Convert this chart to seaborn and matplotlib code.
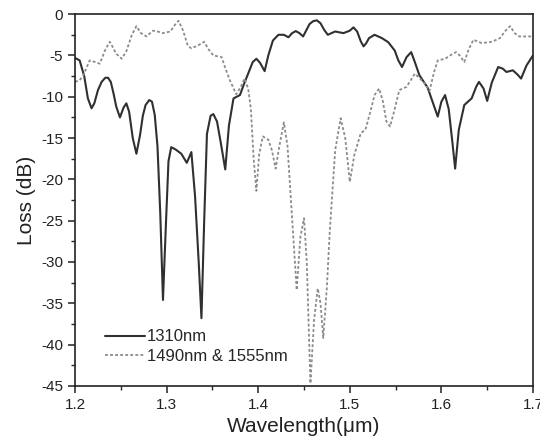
import numpy as np
import pandas as pd
import matplotlib
matplotlib.use('Agg')
import matplotlib.pyplot as plt
from matplotlib.ticker import MultipleLocator, FormatStrFormatter
import seaborn as sns

# 1310nm curve (solid)
wl_1310 = [1.200, 1.205, 1.210, 1.214, 1.218, 1.221, 1.225, 1.229, 1.233, 1.236,
           1.239, 1.242, 1.245, 1.249, 1.253, 1.256, 1.259, 1.263, 1.267, 1.271,
           1.274, 1.277, 1.281, 1.284, 1.287, 1.290, 1.293, 1.296, 1.299, 1.302,
           1.305, 1.310, 1.316, 1.322, 1.327, 1.331, 1.335, 1.338, 1.341, 1.344,
           1.348, 1.351, 1.355, 1.359, 1.364, 1.368, 1.373, 1.380, 1.385, 1.389,
           1.394, 1.398, 1.402, 1.407, 1.411, 1.416, 1.422, 1.428, 1.433, 1.437,
           1.441, 1.445, 1.449, 1.456, 1.460, 1.464, 1.468, 1.472, 1.476, 1.484,
           1.493, 1.500, 1.504, 1.508, 1.512, 1.515, 1.518, 1.521, 1.527, 1.535,
           1.542, 1.549, 1.553, 1.557, 1.562, 1.567, 1.571, 1.576, 1.585, 1.590,
           1.596, 1.600, 1.604, 1.608, 1.612, 1.615, 1.619, 1.625, 1.633, 1.638,
           1.641, 1.646, 1.650, 1.655, 1.662, 1.667, 1.671, 1.678, 1.683, 1.687,
           1.693, 1.700]
loss_1310 = [-5.3, -5.6, -7.5, -10.2, -11.4, -10.8, -9.2, -8.2, -7.7, -7.7,
             -8.2, -9.6, -11.2, -12.5, -11.3, -10.8, -11.8, -15.0, -16.9, -14.6,
             -12.3, -11.0, -10.4, -10.6, -12.2, -16.0, -24.0, -34.6, -26.0, -17.8,
             -16.1, -16.4, -16.9, -18.0, -16.7, -22.0, -30.0, -36.8, -25.0, -14.5,
             -12.3, -12.1, -13.0, -15.5, -18.8, -13.5, -10.2, -9.8, -8.3, -7.2,
             -5.8, -5.4, -5.9, -6.9, -5.0, -3.2, -2.5, -2.5, -2.8, -2.3,
             -2.05, -2.3, -2.7, -1.2, -0.85, -0.75, -1.1, -1.9, -2.5, -2.1,
             -2.3, -2.0, -1.6, -2.1, -3.3, -3.9, -3.5, -2.9, -2.5, -2.9,
             -3.4, -4.4, -5.6, -6.4, -5.2, -4.6, -5.8, -7.4, -8.9, -10.5,
             -12.4, -10.6, -9.8, -11.5, -15.5, -18.7, -14.0, -11.0, -10.2, -8.8,
             -8.2, -9.0, -10.5, -8.3, -6.4, -6.6, -7.0, -6.8, -7.3, -7.8,
             -6.2, -5.0]

# 1490nm & 1555nm curve (dashed)
wl_1490 = [1.200, 1.205, 1.209, 1.216, 1.222, 1.227, 1.233, 1.238, 1.245, 1.251,
           1.256, 1.262, 1.267, 1.272, 1.278, 1.285, 1.290, 1.296, 1.304, 1.309,
           1.313, 1.318, 1.323, 1.327, 1.334, 1.341, 1.346, 1.351, 1.360, 1.364,
           1.369, 1.376, 1.381, 1.385, 1.389, 1.392, 1.395, 1.398, 1.401, 1.405,
           1.411, 1.415, 1.419, 1.423, 1.428, 1.432, 1.436, 1.442, 1.446, 1.450,
           1.453, 1.457, 1.461, 1.465, 1.468, 1.471, 1.475, 1.478, 1.484, 1.490,
           1.495, 1.500, 1.505, 1.512, 1.517, 1.522, 1.527, 1.532, 1.536, 1.540,
           1.544, 1.549, 1.554, 1.562, 1.571, 1.582, 1.587, 1.592, 1.596, 1.604,
           1.611, 1.616, 1.620, 1.625, 1.630, 1.635, 1.644, 1.655, 1.664, 1.670,
           1.675, 1.680, 1.685, 1.692, 1.700]
loss_1490 = [-8.2, -8.0, -7.4, -5.6, -5.8, -6.0, -4.3, -3.35, -4.8, -5.4,
             -4.5, -2.5, -1.45, -2.3, -2.7, -2.0, -2.1, -2.3, -2.1, -1.3,
             -0.8, -2.0, -3.8, -4.15, -3.8, -3.35, -4.3, -5.0, -5.2, -6.5,
             -8.0, -9.7, -8.8, -7.8, -9.0, -11.5, -17.5, -21.4, -17.0, -14.8,
             -15.2, -16.5, -18.7, -16.0, -13.1, -16.0, -23.0, -33.4, -27.0, -24.7,
             -30.0, -44.7, -37.0, -33.2, -35.0, -39.2, -33.0, -26.5, -16.5, -12.6,
             -15.0, -20.3, -17.0, -14.4, -14.0, -12.0, -9.8, -9.0, -10.5, -13.0,
             -13.6, -11.5, -9.2, -8.8, -7.2, -8.4, -9.3, -7.0, -5.6, -5.4,
             -4.9, -4.6, -5.0, -5.8, -4.2, -3.1, -3.5, -3.35, -2.9, -2.0,
             -1.45, -2.3, -2.7, -2.7, -2.7]

df_1310 = pd.DataFrame({'wl': wl_1310, 'loss': loss_1310})
df_1490 = pd.DataFrame({'wl': wl_1490, 'loss': loss_1490})

sns.set_theme(style='ticks')
plt.rcParams['font.family'] = ['Liberation Sans', 'DejaVu Sans']
plt.rcParams['axes.unicode_minus'] = False

fig = plt.figure(figsize=(5.4, 4.42), dpi=100)
ax = fig.add_axes([0.139, 0.127, 0.848, 0.841])

sns.lineplot(data=df_1310, x='wl', y='loss', ax=ax, color='#303030',
             linewidth=1.5, estimator=None, sort=False, label='1310nm')
sns.lineplot(data=df_1490, x='wl', y='loss', ax=ax, color='#8c8c8c',
             linewidth=1.3, estimator=None, sort=False, label='1490nm & 1555nm',
             linestyle=(0, (1.6, 1.2)))

ax.set_xlim(1.2, 1.7)
ax.set_ylim(-45, 0)
ax.xaxis.set_major_locator(MultipleLocator(0.1))
ax.xaxis.set_minor_locator(MultipleLocator(0.05))
ax.xaxis.set_major_formatter(FormatStrFormatter('%.1f'))
ax.yaxis.set_major_locator(MultipleLocator(5))
ax.yaxis.set_minor_locator(MultipleLocator(2.5))
ax.tick_params(which='major', direction='out', length=5, width=1.1, labelsize=11,
               colors='#222222')
ax.tick_params(which='minor', direction='out', length=3, width=1.0)

for side in ['left', 'bottom', 'top', 'right']:
    ax.spines[side].set_visible(True)
    ax.spines[side].set_linewidth(1.2)
    ax.spines[side].set_color('#222222')

ax.set_xlabel('Wavelength(\u03bcm)', fontsize=15, color='#222222', labelpad=4)
ax.set_ylabel('Loss (dB)', fontsize=15, color='#222222', labelpad=4)

ax.legend(loc='lower left', bbox_to_anchor=(0.066, 0.06), frameon=False,
          fontsize=12, handlelength=2.4, handletextpad=0.1, labelspacing=0.25,
          borderpad=0, borderaxespad=0)

fig.savefig('out.png', dpi=100)
